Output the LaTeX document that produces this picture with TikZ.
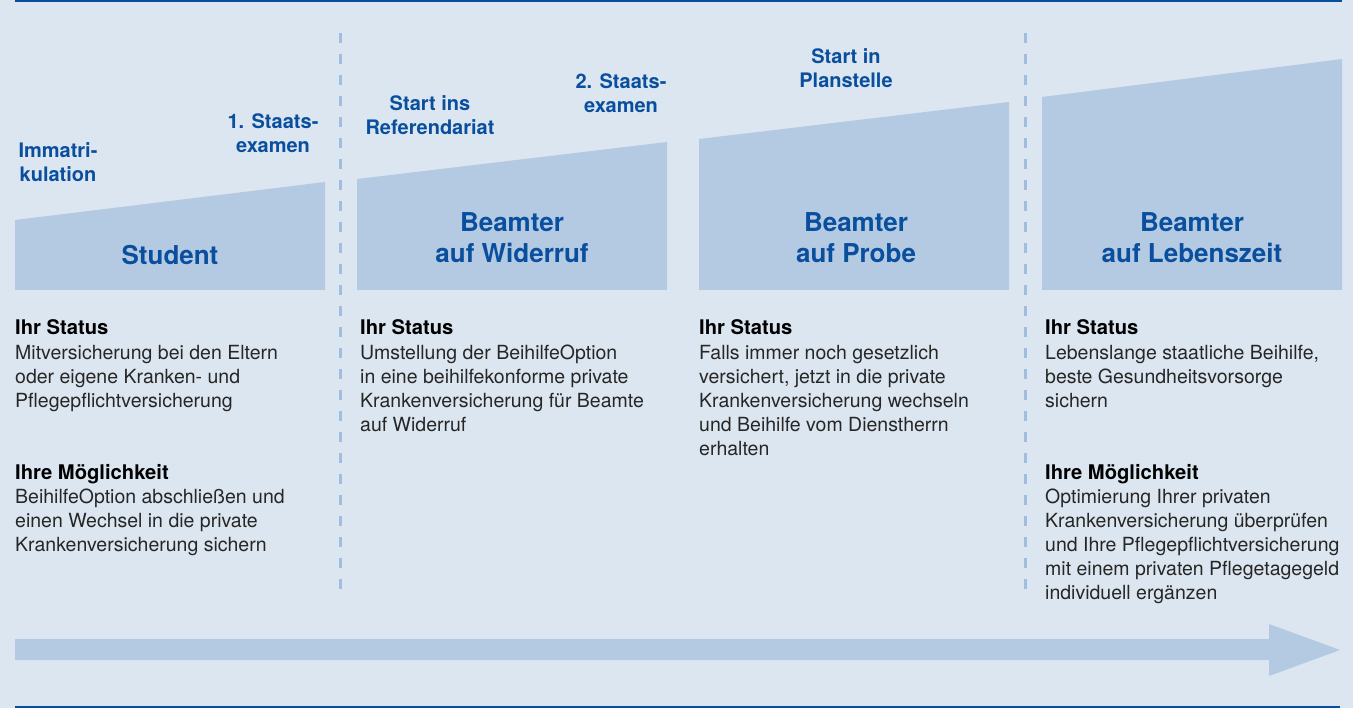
\documentclass[tikz,border=0pt]{standalone}
\usepackage{fontspec}
\setmainfont{TeX Gyre Heros}
\usepackage{xcolor}
\usepackage{tikz}
\definecolor{bg}{HTML}{DCE6F0}
\definecolor{band}{HTML}{B4CAE2}
\definecolor{navy}{HTML}{0A4F9E}
\definecolor{sepcol}{HTML}{A0BEDC}
\definecolor{ink}{HTML}{262626}
\tikzset{
  stage/.style={fill=band, draw=none},
  sep/.style={draw=sepcol, line width=3pt, dash pattern=on 10pt off 11pt},
  rule/.style={draw=navy, line width=2.5pt},
  milestone/.style={text=navy, font=\fontsize{20}{24}\selectfont\bfseries, align=center, anchor=base},
  stagelab/.style={text=navy, font=\fontsize{26}{31}\selectfont\bfseries, align=center, anchor=base},
  head/.style={text=black, font=\fontsize{20.2}{24}\selectfont\bfseries, anchor=base west, inner sep=0pt},
  body/.style={text=ink, font=\fontsize{19.5}{24}\selectfont, align=left, anchor=base west, inner sep=0pt}
}

\begin{document}
\begin{tikzpicture}[x=1pt,y=-1pt]
  \useasboundingbox (0,0) rectangle (1353,708);
  \fill[bg] (0,0) rectangle (1353,708);
  \draw[rule] (15,1) -- (1342,1);
  \draw[rule] (15,707) -- (1340,707);

  % stages
  \fill[stage] (15,290) -- (15,220) -- (325,182) -- (325,290) -- cycle;
  \fill[stage] (357,290) -- (357,179) -- (667,142) -- (667,290) -- cycle;
  \fill[stage] (699,290) -- (699,139) -- (1009,102) -- (1009,290) -- cycle;
  \fill[stage] (1042,290) -- (1042,97) -- (1342,59) -- (1342,290) -- cycle;

  \draw[sep] (340,33) -- (340,600);
  \draw[sep] (1025,33) -- (1025,600);

  % time arrow
  \fill[stage] (15,639) -- (1269,639) -- (1269,624) -- (1340,650)
    -- (1269,676) -- (1269,660) -- (15,660) -- cycle;

  % multi-line nodes sit on the baseline of their last line
  \node[milestone] (imm) at (58,182) {Immatri-\\kulation};
  \node[milestone] (ex1) at (273,153) {1. Staats-\\examen};
  \node[milestone] (ref) at (430,135) {Start ins\\Referendariat};
  \node[milestone] (ex2) at (621,113) {2. Staats-\\examen};
  \node[milestone] (plan) at (846,88) {Start in\\Planstelle};

  \node[stagelab] (stud) at (170,265) {Student};
  \node[stagelab] (wid) at (512,263) {Beamter\\auf Widerruf};
  \node[stagelab] (prob) at (856,263) {Beamter\\auf Probe};
  \node[stagelab] (leb) at (1192,263) {Beamter\\auf Lebenszeit};

  \node[head] (st1) at (15,335) {Ihr Status};
  \node[body] (st1b) at (15,408) {Mitversicherung bei den Eltern\\oder eigene Kranken- und\\Pflegepflichtversicherung};
  \node[head] (mg1) at (15,480) {Ihre Möglichkeit};
  \node[body] (mg1b) at (15,551) {BeihilfeOption abschließen und\\einen Wechsel in die private\\Krankenversicherung sichern};

  \node[head] (st2) at (360,335) {Ihr Status};
  \node[body] (st2b) at (360,432) {Umstellung der BeihilfeOption\\in eine beihilfekonforme private\\Krankenversicherung für Beamte\\auf Widerruf};

  \node[head] (st3) at (699,335) {Ihr Status};
  \node[body] (st3b) at (699,456) {Falls immer noch gesetzlich\\versichert, jetzt in die private\\Krankenversicherung wechseln\\und Beihilfe vom Dienstherrn\\erhalten};

  \node[head] (st4) at (1045,335) {Ihr Status};
  \node[body] (st4b) at (1045,408) {Lebenslange staatliche Beihilfe,\\beste Gesundheitsvorsorge\\sichern};
  \node[head] (mg4) at (1045,480) {Ihre Möglichkeit};
  \node[body] (mg4b) at (1045,599) {Optimierung Ihrer privaten\\Krankenversicherung überprüfen\\und Ihre Pflegepflichtversicherung\\mit einem privaten Pflegetagegeld\\individuell ergänzen};
\end{tikzpicture}
\end{document}
